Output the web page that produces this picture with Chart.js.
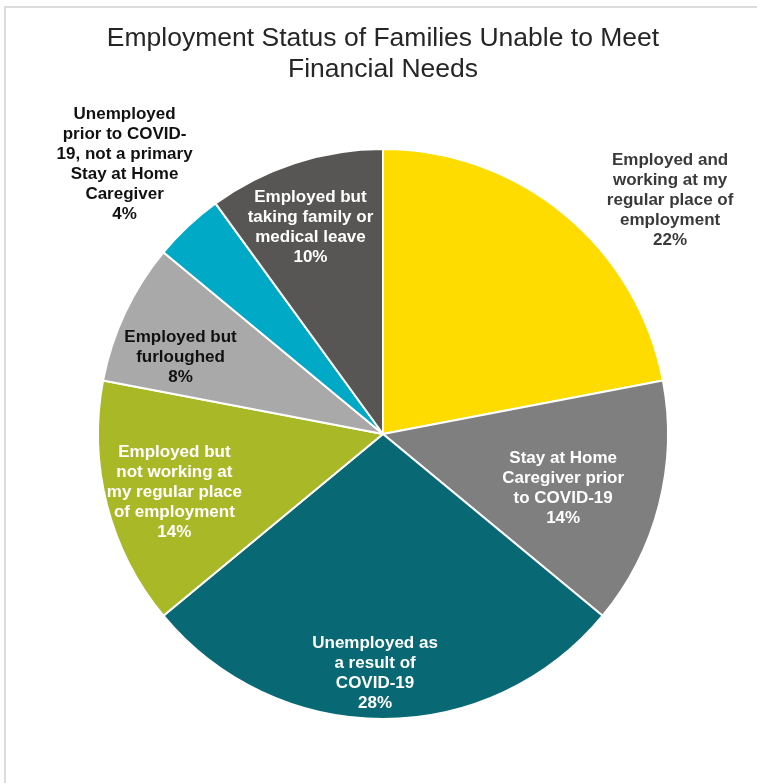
<!DOCTYPE html>
<html>
<head>
<meta charset="utf-8">
<script src="https://cdn.jsdelivr.net/npm/chart.js@4.4.1/dist/chart.umd.min.js"></script>
<style>
  html, body { margin: 0; padding: 0; background: #fff; }
  #wrap { position: relative; width: 757px; height: 783px; overflow: hidden; }
  #frame {
    position: absolute; left: 4px; top: 6px; width: 800px; height: 800px;
    border-left: 2px solid #dcdcdc; border-top: 2px solid #dcdcdc;
  }
  canvas { position: absolute; left: 0; top: 0; }
</style>
</head>
<body>
<div id="wrap">
  <div id="frame"></div>
  <canvas id="pieChart" width="757" height="783"></canvas>
</div>
<script>
// Data
const categories = [
  'Employed and working at my regular place of employment',
  'Stay at Home Caregiver prior to COVID-19',
  'Unemployed as a result of COVID-19',
  'Employed but not working at my regular place of employment',
  'Employed but furloughed',
  'Unemployed prior to COVID-19, not a primary Stay at Home Caregiver',
  'Employed but taking family or medical leave'
];
const shares = [22, 14, 28, 14, 8, 4, 10];

// how the label text wraps in the original
const labelLines = [
  ['Employed and', 'working at my', 'regular place of', 'employment'],
  ['Stay at Home', 'Caregiver prior', 'to COVID-19'],
  ['Unemployed as', 'a result of', 'COVID-19'],
  ['Employed but', 'not working at', 'my regular place', 'of employment'],
  ['Employed but', 'furloughed'],
  ['Unemployed', 'prior to COVID-', '19, not a primary', 'Stay at Home', 'Caregiver'],
  ['Employed but', 'taking family or', 'medical leave']
];

const sliceColors = ['#FFDC00', '#7F7F7F', '#086874', '#A8B826', '#A9A9A9', '#00A9C5', '#575655'];
const labelColors = ['#3a3a3a', '#ffffff', '#ffffff', '#ffffff', '#111111', '#111111', '#ffffff'];

// label placement: radius as fraction of pie radius, angle shift in degrees
const labelRadius = [1.30, 0.66, 0.84, 0.76, 0.76, 1.31, 0.77];
const labelShift = [11.2, 2.3, 1.9, -1.2, -4.4, -0.6, -1.3];

// Draws the multi-line labels on/around each slice
const sliceLabels = {
  id: 'sliceLabels',
  afterDatasetsDraw(chart) {
    const ctx = chart.ctx;
    const meta = chart.getDatasetMeta(0);
    const total = shares.reduce((a, b) => a + b, 0);
    ctx.save();
    ctx.font = 'bold 17px "Liberation Sans", Arial, sans-serif';
    ctx.textAlign = 'center';
    ctx.textBaseline = 'middle';
    const lh = 20;
    meta.data.forEach((arc, i) => {
      const p = arc.getProps(['x', 'y', 'startAngle', 'endAngle', 'outerRadius'], true);
      const mid = (p.startAngle + p.endAngle) / 2 + labelShift[i] * Math.PI / 180;
      const r = p.outerRadius * labelRadius[i];
      const cx = p.x + Math.cos(mid) * r;
      const cy = p.y + Math.sin(mid) * r;
      const lines = labelLines[i].concat([Math.round(shares[i] / total * 100) + '%']);
      const top = cy - (lines.length - 1) * lh / 2;
      ctx.fillStyle = labelColors[i];
      lines.forEach((t, k) => ctx.fillText(t, cx, top + k * lh));
    });
    ctx.restore();
  }
};

new Chart(document.getElementById('pieChart'), {
  type: 'pie',
  data: {
    labels: categories,
    datasets: [{
      data: shares,
      backgroundColor: sliceColors,
      borderColor: '#ffffff',
      borderWidth: 2
    }]
  },
  options: {
    responsive: false,
    animation: false,
    layout: { padding: { left: 9, right: 0, top: 0, bottom: 63 } },
    plugins: {
      legend: { display: false },
      tooltip: { enabled: false },
      title: {
        display: true,
        text: ['Employment Status of Families Unable to Meet', 'Financial Needs'],
        color: '#262626',
        font: { family: '"Liberation Sans", Arial, sans-serif', size: 26.5, weight: 'normal', lineHeight: 1.17 },
        padding: { top: 23, bottom: 63 }
      }
    }
  },
  plugins: [sliceLabels]
});
</script>
</body>
</html>
